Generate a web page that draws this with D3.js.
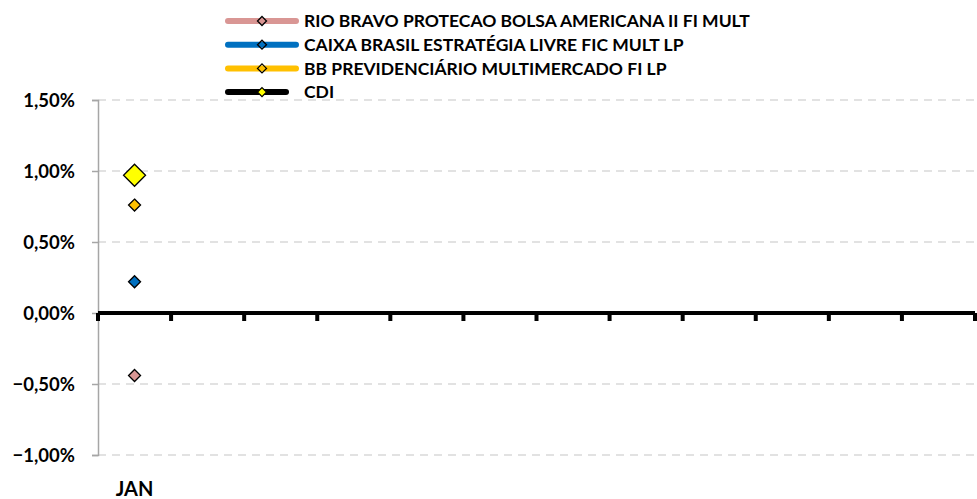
<!DOCTYPE html>
<html>
<head>
<meta charset="utf-8">
<script src="https://cdn.jsdelivr.net/npm/d3@7"></script>
<style>
  body { margin: 0; background: #fff; }
  text { font-family: Lato, "Open Sans", sans-serif; font-weight: bold; }
</style>
</head>
<body>
<svg id="chart" width="977" height="499"></svg>
<script>
var months = ['JAN', 'FEV', 'MAR', 'ABR', 'MAI', 'JUN', 'JUL', 'AGO', 'SET', 'OUT', 'NOV', 'DEZ'];
var shownLabels = ['JAN'];
var seriesNames = ['RIO BRAVO PROTECAO BOLSA AMERICANA II FI MULT', 'CAIXA BRASIL ESTRATÉGIA LIVRE FIC MULT LP', 'BB PREVIDENCIÁRIO MULTIMERCADO FI LP', 'CDI'];
var seriesColors = ['#D99694', '#0070C0', '#FFC000', '#000000'];
var markerColors = ['#D99694', '#0070C0', '#FFC000', '#FFFF00'];
var rioBravo = [-0.44];
var caixa = [0.22];
var bbPrev = [0.76];
var cdi = [0.97];
var yTicks = [-1.0, -0.5, 0, 0.5, 1.0, 1.5];

var allSeries = [rioBravo, caixa, bbPrev, cdi];

var svg = d3.select('#chart');
var plotLeft = 98, plotRight = 975, plotTop = 100, plotBottom = 455;

var x = d3.scaleBand().domain(months).range([plotLeft, plotRight]);
var y = d3.scaleLinear().domain([-1.0, 1.5]).range([plotBottom, plotTop]);
var fmt = function(v){ return d3.format('.2f')(v).replace('.', ',') + '%'; };

// grid lines
svg.append('g').selectAll('line')
    .data(yTicks.filter(function(d){ return d !== 0; }))
    .enter().append('line')
    .attr('x1', plotLeft).attr('x2', plotRight)
    .attr('y1', function(d){ return y(d); }).attr('y2', function(d){ return y(d); })
    .attr('stroke', '#D9D9D9').attr('stroke-width', 1.5)
    .attr('stroke-dasharray', '8,6');

// y axis
var yAxis = svg.append('g')
    .attr('transform', 'translate(' + plotLeft + ',0)')
    .call(d3.axisLeft(y).tickValues(yTicks).tickFormat(fmt).tickSize(6).tickPadding(17));
yAxis.select('.domain').attr('stroke', '#A6A6A6').attr('stroke-width', 1.5);
yAxis.selectAll('.tick line').attr('stroke', '#A6A6A6').attr('stroke-width', 1.5);
yAxis.selectAll('text').attr('font-size', 18.5).attr('fill', '#000').attr('dy', '0.35em');

// x axis at zero
var xg = svg.append('g');
xg.append('line')
    .attr('x1', plotLeft).attr('x2', plotRight)
    .attr('y1', y(0)).attr('y2', y(0))
    .attr('stroke', '#000').attr('stroke-width', 4);
var tickPos = months.map(function(m){ return x(m); }).concat([plotRight]);
xg.selectAll('rect.tk').data(tickPos).enter().append('rect')
    .attr('class', 'tk')
    .attr('x', function(d){ return d - 2; })
    .attr('y', y(0))
    .attr('width', 4).attr('height', 8)
    .attr('fill', '#000');

// month label
svg.selectAll('text.month').data(shownLabels).enter().append('text')
    .attr('class', 'month')
    .attr('x', function(d){ return x(d) + x.bandwidth() / 2; })
    .attr('y', 496)
    .attr('text-anchor', 'middle')
    .attr('font-size', 20)
    .text(function(d){ return d; });

// markers
var diamond = function(cx, cy, r){
    return 'M' + cx + ',' + (cy - r) + 'L' + (cx + r) + ',' + cy + 'L' + cx + ',' + (cy + r) + 'L' + (cx - r) + ',' + cy + 'Z';
};
allSeries.forEach(function(vals, i){
    svg.append('g').selectAll('path').data(vals).enter().append('path')
        .attr('d', function(v, j){
            var cx = x(months[j]) + x.bandwidth() / 2;
            return diamond(cx, y(v), i === 3 ? 11 : 6);
        })
        .attr('fill', markerColors[i])
        .attr('stroke', '#000').attr('stroke-width', 1.3);
});

// legend
var leg = svg.append('g');
seriesNames.forEach(function(name, i){
    var ly = 21 + i * 23.7;
    leg.append('line')
        .attr('x1', 228).attr('x2', i === 3 ? 286 : 296)
        .attr('y1', ly).attr('y2', ly)
        .attr('stroke', seriesColors[i]).attr('stroke-width', 6)
        .attr('stroke-linecap', 'round');
    leg.append('path')
        .attr('d', diamond(262, ly, 4.5))
        .attr('fill', i === 3 ? markerColors[i] : 'none')
        .attr('stroke', '#000').attr('stroke-width', 1.3);
    leg.append('text')
        .attr('x', 304).attr('y', ly)
        .attr('dy', '0.35em')
        .attr('font-size', 17.5)
        .text(name);
});
</script>
</body>
</html>
